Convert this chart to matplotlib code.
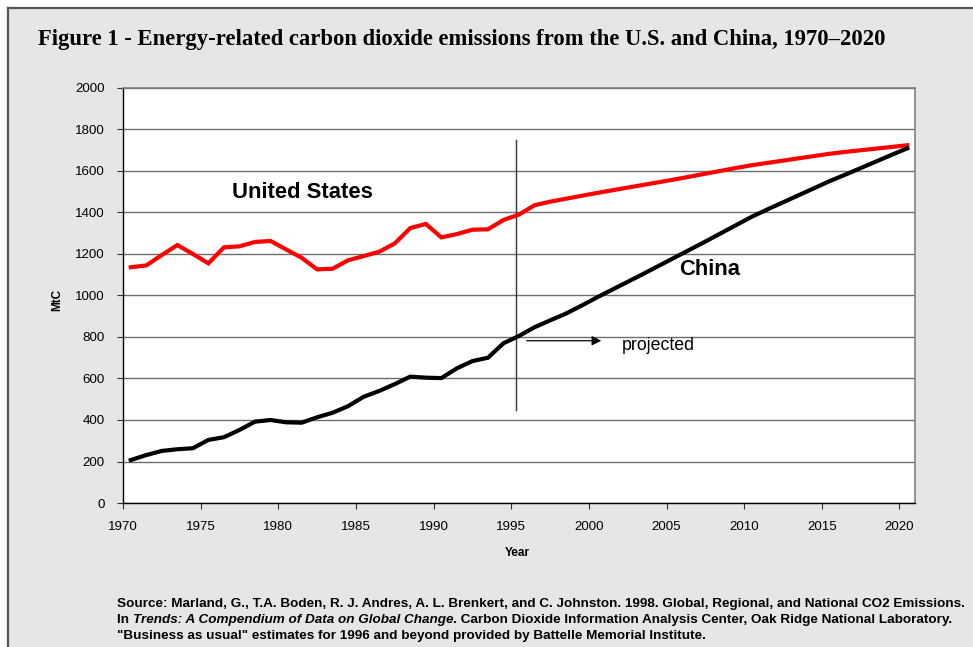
import matplotlib
matplotlib.use("Agg")
import matplotlib.pyplot as plt
from matplotlib.patches import Rectangle
from matplotlib.lines import Line2D

years = list(range(1970, 2021))
us = [1136, 1145, 1195, 1243, 1200, 1155, 1232, 1237, 1258, 1263,
      1222, 1182, 1126, 1129, 1170, 1190, 1211, 1251, 1325, 1345,
      1280, 1296, 1317, 1319, 1364, 1390, 1435, 1452, 1466, 1480,
      1494, 1507, 1520, 1533, 1546, 1559, 1573, 1587, 1601, 1615,
      1628, 1639, 1650, 1661, 1672, 1683, 1692, 1700, 1708, 1716, 1724]
china = [207, 231, 251, 259, 264, 304, 317, 352, 392, 400,
         389, 387, 413, 435, 467, 512, 540, 573, 609, 604,
         602, 649, 684, 700, 770, 805, 847, 880, 912, 950,
         990, 1028, 1066, 1104, 1143, 1182, 1221, 1260, 1300, 1340,
         1380, 1415, 1449, 1483, 1517, 1551, 1582, 1614, 1646, 1678, 1709]
xticks = list(range(1970, 2021, 5))
yticks = list(range(0, 2001, 200))

W, H = 973, 647
fig = plt.figure(figsize=(W / 100, H / 100), dpi=100)
fig.patch.set_facecolor("white")

# gray panel with left/top border
fig.patches.append(Rectangle((8 / W, 0), 1, 1 - 8 / H, transform=fig.transFigure,
                             facecolor="#e6e6e6", edgecolor="none", zorder=-10))
fig.lines.append(Line2D([8 / W, 8 / W], [0, 1 - 8 / H], transform=fig.transFigure,
                        color="#555555", lw=1.6, zorder=-5))
fig.lines.append(Line2D([8 / W, 1], [1 - 8 / H, 1 - 8 / H], transform=fig.transFigure,
                        color="#555555", lw=1.6, zorder=-5))

ax = fig.add_axes([123 / W, 1 - 503 / H, (915 - 123) / W, (503 - 88) / H])
ax.set_facecolor("white")

xs = [y + 0.5 for y in years]
ax.plot(xs, us, color="#ff0000", lw=3.0, solid_joinstyle="miter", zorder=3)
ax.plot(xs, china, color="black", lw=3.0, solid_joinstyle="miter", zorder=3)

ax.set_xlim(1970, 2021)
ax.set_ylim(0, 2000)
ax.set_xticks(xticks)
ax.set_yticks(yticks)
ax.set_xticklabels([str(t) for t in xticks])
ax.set_yticklabels([str(t) for t in yticks])
for lab in ax.get_xticklabels() + ax.get_yticklabels():
    lab.set_family("Liberation Sans")
    lab.set_fontsize(9.6)
ax.tick_params(axis="both", direction="out", length=4, width=0.8, color="#333333", pad=9)
ax.yaxis.grid(True, color="#6e6e6e", lw=1.0)
ax.set_axisbelow(True)
for s in ["top", "right"]:
    ax.spines[s].set_color("#808080")
    ax.spines[s].set_linewidth(1.2)
for s in ["left", "bottom"]:
    ax.spines[s].set_color("black")
    ax.spines[s].set_linewidth(1.0)

# projection marker
ax.plot([1995.3, 1995.3], [448, 1750], color="#333333", lw=1.0, zorder=2)
ax.annotate("", xy=(2000.8, 782), xytext=(1996.0, 782),
            arrowprops=dict(arrowstyle="-|>", color="black", lw=0.9,
                            mutation_scale=14, shrinkA=0, shrinkB=0))
ax.text(2002.1, 760, "projected", family="Liberation Sans", fontsize=12.8,
        va="center", ha="left")

ax.text(1977.0, 1494, "United States", family="Liberation Sans", fontsize=15.8,
        fontweight="bold", va="center", ha="left")
ax.text(2005.8, 1127, "China", family="Liberation Sans", fontsize=15.8,
        fontweight="bold", va="center", ha="left")

fig.text(38 / W, 1 - 40 / H,
         "Figure 1 - Energy-related carbon dioxide emissions from the U.S. and China, 1970\u20132020",
         family="Liberation Serif", fontsize=16.3, fontweight="bold", va="center", ha="left")

fig.text(517 / W, 1 - 553 / H, "Year", family="Liberation Sans", fontsize=8.5,
         fontweight="bold", ha="center", va="center")
fig.text(57 / W, 1 - 300 / H, "MtC", family="Liberation Sans", fontsize=8.5,
         fontweight="bold", ha="center", va="center", rotation=90)

src_kw = dict(family="Liberation Sans", fontsize=9.7, fontweight="bold", va="center")
fig.text(117 / W, 1 - 604 / H,
         "Source: Marland, G., T.A. Boden, R. J. Andres, A. L. Brenkert, and C. Johnston. 1998. Global, Regional, and National CO2 Emissions.",
         ha="left", **src_kw)
fig.text(117 / W, 1 - 636 / H,
         "\"Business as usual\" estimates for 1996 and beyond provided by Battelle Memorial Institute.",
         ha="left", **src_kw)

# second line: mixed roman / italic pieces placed one after another
renderer = fig.canvas.get_renderer()
pieces = [("In ", "normal"),
          ("Trends: A Compendium of Data on Global Change.", "italic"),
          (" Carbon Dioxide Information Analysis Center, Oak Ridge National Laboratory.", "normal")]
xpos = 117
for txt, style in pieces:
    t = fig.text(xpos / W, 1 - 620 / H, txt, ha="left", style=style, **src_kw)
    bb = t.get_window_extent(renderer=renderer)
    xpos += bb.width

fig.savefig("out.png", dpi=100)
